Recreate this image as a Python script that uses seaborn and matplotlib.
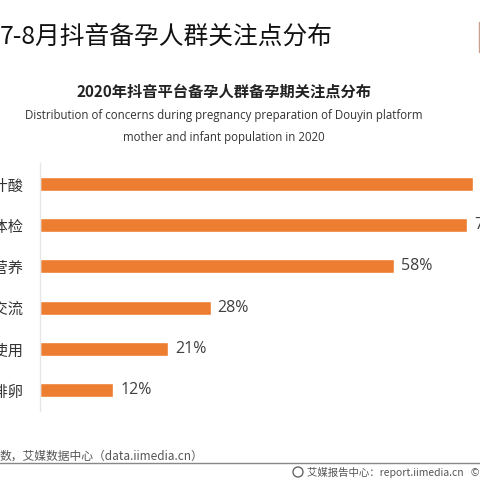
import matplotlib
matplotlib.use("Agg")
import matplotlib.pyplot as plt
import seaborn as sns
import pandas as pd
from matplotlib.lines import Line2D
from matplotlib.patches import Circle

categories = ["补充叶酸", "孕前体检", "孕期营养", "经验交流", "试纸使用", "监测排卵"]
values = [71, 70, 58, 28, 21, 12]
value_labels = ["71%", "70%", "58%", "28%", "21%", "12%"]

title = "7-8月抖音备孕人群关注点分布"
subtitle = "2020年抖音平台备孕人群备孕期关注点分布"
en_line1 = "Distribution of concerns during pregnancy preparation of Douyin platform"
en_line2 = "mother and infant population in 2020"
source = "数，艾媒数据中心（data.iimedia.cn）"
footer_right = "艾媒报告中心：report.iimedia.cn   ©2020  iiMedia Research Inc"

sns.set_theme(style="white")
plt.rcParams['font.family'] = ['Noto Sans CJK SC', 'DejaVu Sans']

W = H = 480
fig = plt.figure(figsize=(4.8, 4.8), dpi=100)
fig.patch.set_facecolor("white")

def fx(px):
    return px / W

def fy(py):
    return 1 - py / H

ax = fig.add_axes([fx(40), fy(411), fx(440), 248 / H])
df = pd.DataFrame({"cat": categories, "val": values})
sns.barplot(data=df, y="cat", x="val", orient="h", color="#ED7D31",
            saturation=1, width=0.34, ax=ax)
ax.set_xlim(0, 440 / 6.1)
ax.set_ylim(5.5, -0.5)
ax.set_xlabel("")
ax.set_ylabel("")
ax.set_xticks([])
for s in ["top", "right", "bottom"]:
    ax.spines[s].set_visible(False)
ax.spines["left"].set_color("#e6e6e6")
ax.spines["left"].set_linewidth(1.0)
ax.tick_params(axis="y", length=0, pad=12, labelsize=11, labelcolor="#333333")
for lab in ax.get_yticklabels():
    lab.set_fontfamily(['Noto Sans CJK SC', 'DejaVu Sans'])

for i, (v, t) in enumerate(zip(values, value_labels)):
    ax.annotate(t, xy=(v, i), xytext=(5, 0), textcoords="offset points",
                ha="left", va="center", fontsize=11.5, color="#404040",
                family=['Open Sans', 'DejaVu Sans'], annotation_clip=False)

fig.text(fx(0), fy(37), title, ha="left", va="center", fontsize=17.8,
         color="#111111", weight="medium")
fig.text(fx(224), fy(92), subtitle, ha="center", va="center", fontsize=11,
         color="#222222", weight="bold")
fig.text(fx(224), fy(115), en_line1, ha="center", va="center", fontsize=8.3,
         color="#333333", family=['Open Sans', 'DejaVu Sans'])
fig.text(fx(224), fy(138), en_line2, ha="center", va="center", fontsize=8.3,
         color="#333333", family=['Open Sans', 'DejaVu Sans'])

fig.text(fx(0), fy(456), source, ha="left", va="center", fontsize=8.5,
         color="#555555")
fig.add_artist(Line2D([0, 1], [fy(463), fy(463)], transform=fig.transFigure,
                      color="#888888", linewidth=1.0))
fig.add_artist(Circle((fx(298), fy(472)), 5 / W, transform=fig.transFigure,
                      fill=False, edgecolor="#666666", linewidth=1.0))
fig.text(fx(307), fy(472), footer_right, ha="left", va="center", fontsize=7.5,
         color="#555555")
fig.add_artist(Line2D([fx(479), fx(479)], [fy(22), fy(52)], transform=fig.transFigure,
                      color="#c8a090", linewidth=1.0))

fig.savefig("out.png", dpi=100, facecolor="white")
